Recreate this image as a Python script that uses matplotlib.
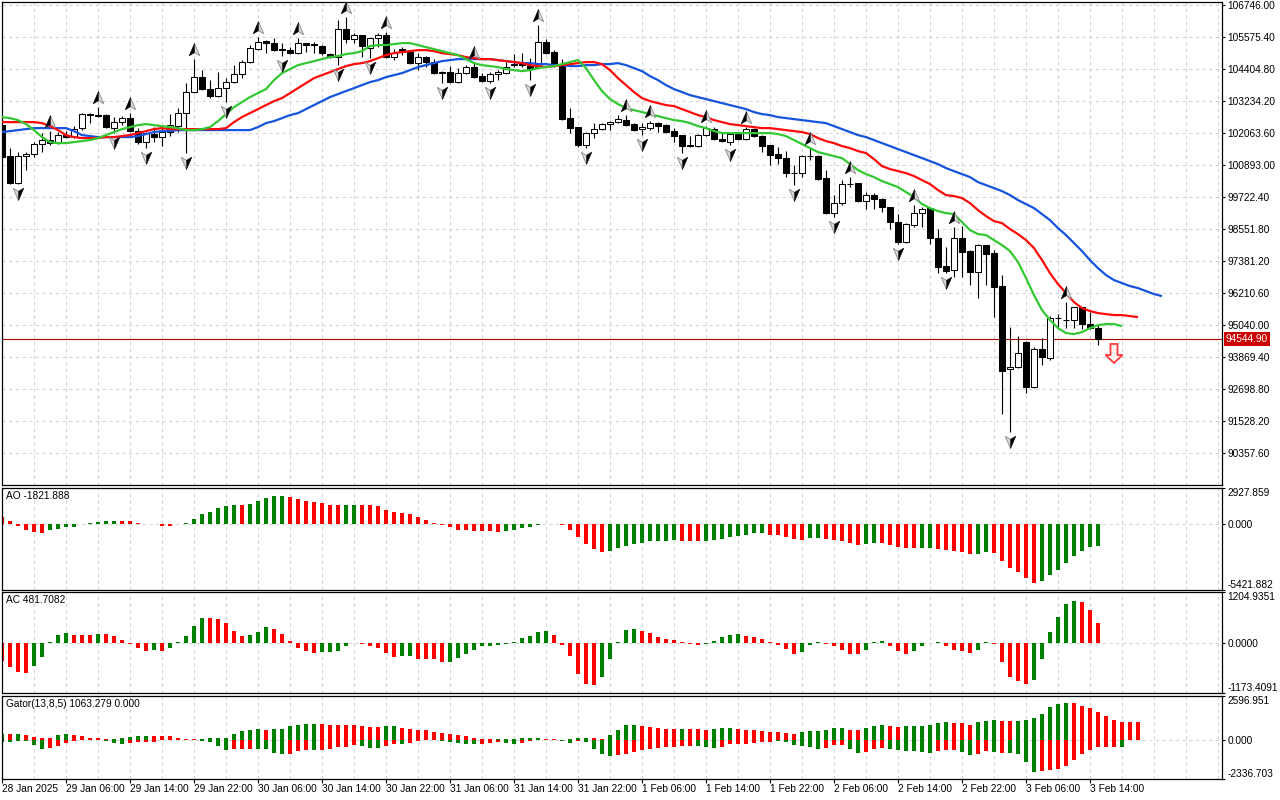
import numpy as np
import matplotlib
matplotlib.use("Agg")
import matplotlib.pyplot as plt
import matplotlib.transforms as mtransforms
from matplotlib.path import Path
from matplotlib.patches import Polygon

plt.rcParams['font.family'] = ['Liberation Sans Narrow', 'Liberation Sans', 'DejaVu Sans']
plt.rcParams['font.size'] = 7.3

# ---------------- data (BTCUSD H1) ----------------
open_ = [102356, 101223, 100235, 101223, 101296, 101662, 101808, 101698, 101991, 101918,
         102246, 102759, 102722, 102722, 102246, 102466, 102612, 102137, 101735, 102028,
         101918, 102101, 102320, 102795, 103564, 104112, 103674, 103418, 103710, 103930,
         104222, 104661, 105137, 105429, 105356, 105137, 105100, 104990, 105356, 105320,
         105247, 104954, 104844, 105868, 105503, 105649, 105173, 105539, 105649, 104844,
         105137, 105027, 104624, 104844, 104661, 104295, 104295, 103930, 104258, 104478,
         104149, 103966, 104222, 104258, 104551, 104588, 104551, 104478, 105393, 105027,
         104551, 102612, 102283, 101625, 102064, 102210, 102393, 102466, 102539, 102393,
         102210, 102246, 102429, 102356, 102137, 101991, 101625, 101589, 101991, 102210,
         101845, 101735, 102028, 101845, 102210, 101955, 101625, 101296, 101149, 100600,
         100600, 101223, 101223, 100417, 99137, 99503, 100199, 100235, 99576, 99796,
         99650, 99357, 98808, 98077, 98698, 99137, 99320, 98223, 97198, 97052,
         98223, 97747, 96979, 97967, 97674, 96467, 93430, 93503, 94419, 92773,
         94163, 93833, 95296, 95223, 95223, 95699, 95077, 94931]
high = [102429, 101515, 101369, 101369, 101735, 102064, 102137, 102101, 102137, 102320,
        102795, 102790, 103015, 102759, 102649, 102686, 102795, 102246, 102101, 102283,
        102320, 102759, 102978, 103893, 104771, 104368, 104003, 104295, 104075, 104551,
        104734, 105283, 105576, 105466, 105539, 105356, 105210, 105539, 105375, 105393,
        105283, 104990, 106197, 106307, 105722, 105667, 105550, 105722, 105759, 105137,
        105210, 105100, 104990, 104881, 104771, 104331, 104515, 104441, 104551, 104661,
        104258, 104295, 104368, 104661, 104954, 104990, 104807, 106014, 105503, 105100,
        104771, 102978, 102300, 102101, 102429, 102429, 102502, 102722, 102722, 102429,
        102429, 102502, 102466, 102393, 102246, 102010, 101955, 102028, 102320, 102283,
        102064, 102101, 102101, 102283, 102246, 101991, 101640, 101552, 101406, 100893,
        101259, 101515, 101259, 100710, 99796, 100345, 100454, 100250, 99906, 99869,
        99686, 99375, 99101, 98771, 99430, 99357, 99340, 98552, 97894, 98625,
        98662, 97784, 98004, 97985, 97784, 96870, 94968, 94638, 94440, 94236,
        94565, 95369, 95443, 95882, 95717, 95717, 95516, 95077]
low = [101076, 100199, 100199, 100710, 101186, 101369, 101625, 101662, 101881, 101881,
       102174, 102429, 102649, 102246, 102064, 102356, 102101, 101662, 101515, 101735,
       101589, 101955, 102101, 101332, 103527, 103637, 103344, 103381, 103198, 103893,
       104075, 104624, 105100, 104990, 105063, 104881, 104970, 104970, 105027, 104990,
       104917, 104807, 104551, 105356, 105356, 104844, 104807, 105210, 104807, 104734,
       104917, 104588, 104368, 104478, 104222, 103893, 103893, 103893, 104222, 104093,
       103950, 103893, 104003, 104222, 104478, 104478, 104003, 104441, 104970, 104478,
       102539, 102064, 101552, 101515, 101881, 102174, 102174, 102429, 102320, 102137,
       101991, 102174, 102101, 102064, 101735, 101332, 101552, 101552, 101955, 101808,
       101735, 101625, 101808, 101808, 101918, 101369, 100893, 100930, 100454, 100162,
       100454, 101076, 100345, 99101, 98991, 99430, 100089, 99560, 99284, 99284,
       99174, 98552, 98004, 98040, 98625, 98625, 98004, 96942, 96942, 96796,
       96796, 96504, 96028, 96504, 95333, 91785, 91126, 93467, 92553, 92736,
       93577, 93760, 94931, 94931, 94931, 94894, 94894, 94309]
close = [101186, 100235, 101223, 101296, 101662, 101808, 101698, 101991, 101918, 102210,
         102759, 102722, 102700, 102283, 102466, 102612, 102137, 101735, 102064, 101918,
         102101, 102356, 102795, 103564, 104112, 103674, 103418, 103710, 103930, 104222,
         104661, 105173, 105393, 105356, 105100, 105120, 104990, 105356, 105283, 105300,
         104990, 104844, 105868, 105503, 105649, 105247, 105539, 105649, 104844, 104990,
         105027, 104624, 104844, 104661, 104258, 104276, 103930, 104258, 104478, 104112,
         103966, 104222, 104295, 104478, 104588, 104551, 104405, 105393, 104990, 104551,
         102576, 102246, 101625, 102064, 102210, 102393, 102466, 102576, 102356, 102174,
         102283, 102429, 102320, 102101, 101955, 101589, 101589, 101991, 102246, 101845,
         101771, 102028, 101845, 102210, 101955, 101589, 101259, 101149, 100600, 100620,
         101223, 101240, 100381, 99137, 99503, 100199, 100217, 99576, 99796, 99650,
         99357, 98808, 98077, 98735, 99137, 99284, 98223, 97162, 97015, 98223,
         97711, 96979, 97967, 97638, 96431, 93357, 93503, 94016, 92773, 94163,
         93870, 95296, 95315, 95240, 95699, 95077, 94931, 94544.9]

# Alligator lines (already shifted forward: jaw +8, teeth +5, lips +3)
jaw = [102101, 102137, 102174, 102210, 102246, 102246, 102246, 102246, 102246, 102137,
       101991, 101955, 101918, 101918, 101918, 101918, 101918, 101955, 102028, 102101,
       102137, 102137, 102174, 102174, 102174, 102174, 102174, 102174, 102174, 102174,
       102174, 102174, 102283, 102429, 102502, 102612, 102722, 102795, 102942, 103088,
       103234, 103381, 103491, 103600, 103710, 103820, 103930, 104003, 104112, 104185,
       104258, 104368, 104478, 104551, 104624, 104697, 104734, 104771, 104771, 104771,
       104771, 104771, 104734, 104697, 104661, 104624, 104624, 104588, 104588, 104551,
       104551, 104515, 104515, 104551, 104551, 104588, 104588, 104624, 104551, 104441,
       104331, 104149, 104003, 103820, 103674, 103564, 103454, 103381, 103308, 103234,
       103161, 103088, 103015, 102942, 102832, 102759, 102722, 102649, 102612, 102576,
       102539, 102502, 102466, 102429, 102320, 102210, 102101, 101991, 101918, 101808,
       101698, 101589, 101479, 101369, 101259, 101149, 101039, 100930, 100783, 100673,
       100564, 100454, 100271, 100162, 100052, 99942, 99796, 99613, 99467, 99320,
       99101, 98881, 98589, 98333, 98040, 97747, 97418, 97125, 96870, 96687,
       96577, 96467, 96394, 96284, 96175, 96101]
teeth = [102466, 102466, 102466, 102466, 102466, 102429, 102320, 102174, 101991, 101918,
         101881, 101881, 101881, 101918, 101918, 101955, 101991, 102064, 102137, 102210,
         102246, 102210, 102210, 102210, 102210, 102210, 102210, 102210, 102246, 102466,
         102649, 102795, 102942, 103088, 103234, 103344, 103527, 103710, 103893, 104075,
         104185, 104295, 104405, 104515, 104588, 104624, 104697, 104807, 104917, 104990,
         105027, 105063, 105100, 105100, 105063, 104990, 104954, 104917, 104844, 104807,
         104771, 104771, 104734, 104697, 104661, 104624, 104551, 104515, 104478, 104515,
         104551, 104588, 104624, 104661, 104661, 104588, 104368, 104075, 103820, 103564,
         103344, 103234, 103161, 103088, 103052, 102942, 102832, 102722, 102649, 102539,
         102466, 102393, 102356, 102320, 102283, 102246, 102246, 102210, 102174, 102137,
         102101, 102028, 101881, 101771, 101698, 101589, 101515, 101406, 101332, 101113,
         100857, 100747, 100673, 100600, 100491, 100345, 100199, 99979, 99796, 99760,
         99686, 99503, 99247, 99028, 98845, 98771, 98552, 98369, 98150, 97857,
         97418, 96942, 96540, 96211, 95882, 95662, 95552, 95479, 95443, 95406,
         95406, 95369, 95333]
lips = [102649, 102612, 102539, 102393, 102174, 101918, 101735, 101698, 101698, 101735,
        101771, 101808, 101881, 101991, 102101, 102210, 102283, 102356, 102393, 102356,
        102320, 102283, 102246, 102174, 102174, 102210, 102283, 102502, 102759, 103015,
        103198, 103381, 103527, 103674, 104003, 104258, 104405, 104551, 104624, 104697,
        104771, 104844, 104881, 104954, 104990, 105063, 105247, 105283, 105283, 105320,
        105356, 105356, 105283, 105210, 105137, 105063, 104990, 104917, 104771, 104624,
        104551, 104515, 104478, 104405, 104368, 104331, 104368, 104441, 104478, 104515,
        104588, 104661, 104734, 104441, 104003, 103600, 103308, 103125, 102978, 102905,
        102832, 102759, 102686, 102612, 102539, 102502, 102429, 102320, 102246, 102137,
        102064, 102064, 102064, 102064, 102064, 102064, 102064, 102028, 101955, 101808,
        101662, 101515, 101369, 101296, 101223, 101149, 100930, 100710, 100564, 100454,
        100308, 100199, 100089, 99906, 99723, 99467, 99320, 99210, 99137, 99101,
        98808, 98516, 98369, 98333, 98150, 97967, 97747, 97345, 96760, 96138,
        95589, 95223, 94931, 94748, 94711, 94784, 94931, 95040, 95077, 95077,
        95004]

fractal_up_bars = [6, 12, 16, 24, 32, 37, 43, 48, 59, 67, 78, 81, 88, 93, 101, 106, 114, 119, 133]
fractal_down_bars = [2, 14, 18, 23, 28, 35, 42, 46, 55, 61, 66, 73, 80, 85, 91, 99, 104, 112, 118, 126]

ao = [568, 227, -142, -540, -710, -795, -540, -426, -284, -256,
      -28, 28, 142, 227, 227, 227, 227, 57, -20, -30,
      -142, -170, 10, 85, 426, 795, 994, 1250, 1448, 1505,
      1505, 1647, 1846, 2073, 2272, 2272, 2158, 2045, 1874, 1789,
      1732, 1562, 1562, 1562, 1562, 1505, 1505, 1420, 1164, 1000,
      880, 795, 540, 284, 85, -85, -284, -483, -483, -568,
      -568, -568, -653, -625, -540, -369, -284, -85, -28, 10,
      -114, -483, -1051, -1647, -2073, -2329, -2244, -1988, -1818, -1647,
      -1562, -1420, -1420, -1392, -1306, -1392, -1392, -1392, -1392, -1306,
      -1221, -1051, -966, -880, -795, -795, -880, -880, -1051, -1221,
      -1306, -1136, -1136, -1221, -1306, -1392, -1562, -1732, -1647, -1562,
      -1562, -1732, -1903, -1988, -1988, -1988, -1988, -2045, -2158, -2244,
      -2329, -2499, -2499, -2329, -2414, -3010, -3607, -3976, -4459, -4885,
      -4714, -4203, -3777, -3181, -2670, -2244, -1903, -1822]
ao_dir = ("rrrrrrgggg" "gggggrrrrr" "rrgggggggg" "rgggggrrrr" "rrrggrrrrr"
          "rrrrrrrrrr" "rrrggggggg" "rrrrrrgggg" "gggggrrrgg" "ggggggrrrr"
          "rggrrrrrgg" "rrrrrggrrr" "rrggrrrrrr" "gggggggg")

ac = [-416, -560, -680, -704, -536, -320, 16, 200, 240, 200,
      200, 200, 224, 224, 176, 80, -8, -120, -176, -160,
      -176, -104, 24, 160, 400, 584, 584, 560, 464, 296,
      160, 200, 272, 376, 344, 224, 56, -104, -176, -224,
      -200, -200, -176, -56, 8, -8, -56, -104, -224, -320,
      -304, -304, -368, -368, -384, -432, -432, -352, -264, -168,
      -72, -72, -48, -16, 16, 112, 168, 272, 288, 192,
      -48, -312, -728, -952, -984, -792, -384, 32, 312, 336,
      288, 240, 144, 96, 72, 16, -16, -40, -8, 48,
      144, 192, 216, 168, 144, 96, 24, -40, -136, -256,
      -216, -40, 24, -8, -72, -160, -256, -256, -152, 24,
      40, -72, -192, -256, -192, -72, 8, 16, -72, -160,
      -192, -232, -152, 24, -16, -432, -800, -896, -960, -872,
      -376, 264, 608, 928, 1000, 960, 784, 482]
ac_dir = ("rrrrgggggr" "rrgrrrrrrg" "rgggggrrrr" "rgggrrrrrr" "gggggrrrrr"
          "ggrrrrgggg" "gggggggggr" "rrrrrggggg" "rrrrrrrrgg" "gggrrrrrrr"
          "gggrrrrrgg" "grrrggggrr" "rrggrrrrrg" "gggggrrr")

gator_up = [356, 317, 317, 257, 158, 119, 119, 257, 356, 257,
            198, 119, 99, 40, 59, 99, 158, 198, 218, 218,
            218, 218, 119, 40, 20, 30, 79, 119, 125, 317,
            515, 554, 614, 554, 614, 653, 792, 851, 950, 960,
            950, 891, 851, 851, 851, 792, 752, 752, 792, 800,
            713, 614, 604, 554, 455, 416, 356, 257, 198, 119,
            40, 20, 59, 65, 70, 80, 119, 125, 59, 20,
            10, 30, 99, 119, 110, 20, 297, 594, 851, 891,
            832, 772, 713, 653, 653, 653, 653, 653, 594, 653,
            713, 713, 653, 594, 554, 535, 475, 475, 396, 337,
            436, 495, 535, 594, 673, 713, 594, 594, 673, 832,
            891, 832, 772, 792, 832, 840, 891, 970, 1069, 970,
            970, 891, 1030, 1129, 1188, 1129, 1129, 1140, 1188, 1267,
            1525, 1960, 2119, 2178, 2178, 2020, 1861, 1624, 1386, 1188,
            1069, 1069, 1063]
gator_up_dir = ("grgrrrrggr" "rrrrgggggr" "rrrrrggggg" "gggrgggggg" "rrrrrrrrgg"
                "rrrrrrrrrr" "rrggggggrr" "rgggrrgggg" "rrrrrgrrrg" "ggrrrrrrrr"
                "ggggggrrgg" "grrggggggr" "rrgggrrggg" "ggggrrrrrr" "rrr")
gator_down = [-139, -139, -79, -79, -337, -535, -475, -376, -198, -79,
              -40, -20, -40, -79, -198, -277, -198, -139, -139, -139,
              -40, -10, -10, -5, -40, -79, -139, -376, -594, -554,
              -554, -535, -554, -554, -792, -832, -832, -673, -594, -594,
              -594, -535, -436, -436, -337, -376, -495, -495, -376, -238,
              -277, -198, -99, -40, -20, -59, -139, -178, -277, -277,
              -277, -198, -139, -198, -257, -198, -99, -20, -40, -10,
              -79, -198, -99, -110, -574, -851, -970, -931, -851, -733,
              -634, -535, -475, -455, -455, -376, -376, -390, -436, -495,
              -436, -277, -277, -277, -198, -158, -158, -59, -158, -317,
              -396, -455, -554, -515, -317, -317, -554, -812, -752, -554,
              -495, -554, -594, -653, -653, -752, -812, -693, -614, -594,
              -752, -911, -851, -693, -752, -812, -812, -851, -1346, -1940,
              -1881, -1782, -1742, -1544, -1188, -871, -594, -455, -455, -455,
              -455, -25, -15]
gator_down_dir = ("ggggggrrrr" "rrggggrrrr" "rrrrgggggr" "rrggggrrrg" "rrrrrgggrr"
                  "grrrrggggg" "rrrggrrrgr" "ggrggggrrr" "rrrrrrrggg" "rrrrrrrggg"
                  "gggrrrggrr" "rggggggrrr" "ggrrgrgggg" "rrrrrrrrrr" "grr")

price_ticks = [106746.00, 105575.40, 104404.80, 103234.20, 102063.60, 100893.00, 99722.40,
               98551.80, 97381.20, 96210.60, 95040.00, 93869.40, 92698.80, 91528.20, 90357.60]
time_labels = ["28 Jan 2025", "29 Jan 06:00", "29 Jan 14:00", "29 Jan 22:00", "30 Jan 06:00",
               "30 Jan 14:00", "30 Jan 22:00", "31 Jan 06:00", "31 Jan 14:00", "31 Jan 22:00",
               "1 Feb 06:00", "1 Feb 14:00", "1 Feb 22:00", "2 Feb 06:00", "2 Feb 14:00",
               "2 Feb 22:00", "3 Feb 06:00", "3 Feb 14:00"]
bars_per_label = 8
last_price = 94544.90
signal_bar = 139
signal_price = 94350
ao_range = (-5421.882, 2927.859)
ac_range = (-1173.4091, 1204.9351)
gator_range = (-2336.703, 2596.951)
ao_title = "AO -1821.888"
ac_title = "AC 481.7082"
gator_title = "Gator(13,8,5) 1063.279 0.000"

# ---------------- styling ----------------
GREEN = '#008000'
RED = '#ff0000'
GRID = '#d4d4d4'
FS = 7.3
W, H = 1280, 800
fig = plt.figure(figsize=(W / 100, H / 100), dpi=100)
fig.patch.set_facecolor('white')


def px_axes(x0, y0, x1, y1):
    return fig.add_axes([x0 / W, 1 - y1 / H, (x1 - x0) / W, (y1 - y0) / H])


ax = px_axes(2, 2, 1222, 485)
ax_ao = px_axes(2, 488, 1222, 590)
ax_ac = px_axes(2, 592, 1222, 693)
ax_g = px_axes(2, 696, 1222, 779)
XLIM = (0, 152.5)
grid_bars = np.arange(4, 153, 4)

for a in (ax, ax_ao, ax_ac, ax_g):
    a.set_xlim(*XLIM)
    for s in a.spines.values():
        s.set_linewidth(0.9)
        s.set_color('black')
    for gb in grid_bars:
        a.axvline(gb, color=GRID, lw=0.8, ls=(0, (3, 3)), zorder=0)
    a.yaxis.tick_right()
    a.tick_params(axis='y', which='major', direction='out', length=2.3, width=0.8, pad=1.6,
                  labelsize=FS, left=False, right=True, labelleft=False, labelright=True)
    a.set_xticks([])

# ---------------- main price panel ----------------
o = np.asarray(open_, float)
h = np.asarray(high, float)
l = np.asarray(low, float)
c = np.asarray(close, float)
idx = np.arange(len(c))
bull = c > o
body_lo = np.minimum(o, c)
body_h = np.maximum(np.abs(c - o), 12)
ax.vlines(idx, l, h, color='black', lw=0.8, zorder=2)
ax.bar(idx, body_h, bottom=body_lo, width=0.64,
       color=np.where(bull, 'white', 'black'), edgecolor='black', linewidth=0.75, zorder=3)

ax.plot(np.arange(len(jaw)), jaw, color='#1554dc', lw=1.6, zorder=4, solid_capstyle='butt')
ax.plot(np.arange(len(teeth)), teeth, color='#ff0a0a', lw=1.6, zorder=4, solid_capstyle='butt')
ax.plot(np.arange(len(lips)), lips, color='#33c833', lw=1.6, zorder=4, solid_capstyle='butt')

ax.set_ylim(89190, 106860)
ax.set_yticks(price_ticks)
ax.set_yticklabels([f"{v:.2f}" for v in price_ticks])
ax.grid(axis='y', color=GRID, lw=0.8, ls=(0, (3, 3)), zorder=0)
ax.set_axisbelow(True)

# fractal arrows
up_full = Path([(0, 1), (0.75, -0.75), (0, -0.3), (-0.75, -0.75), (0, 1)],
               [Path.MOVETO, Path.LINETO, Path.LINETO, Path.LINETO, Path.CLOSEPOLY])
up_half = Path([(0, 1), (0, -0.3), (-0.75, -0.75), (0, 1)],
               [Path.MOVETO, Path.LINETO, Path.LINETO, Path.CLOSEPOLY])
dn_full = Path([(0, -1), (0.75, 0.75), (0, 0.3), (-0.75, 0.75), (0, -1)],
               [Path.MOVETO, Path.LINETO, Path.LINETO, Path.LINETO, Path.CLOSEPOLY])
dn_half = Path([(0, -1), (0, 0.3), (0.75, 0.75), (0, -1)],
               [Path.MOVETO, Path.LINETO, Path.LINETO, Path.CLOSEPOLY])
tr_up = mtransforms.offset_copy(ax.transData, fig=fig, x=0, y=9, units='dots')
tr_dn = mtransforms.offset_copy(ax.transData, fig=fig, x=0, y=-9, units='dots')
fu = np.array(fractal_up_bars)
fd = np.array(fractal_down_bars)
ax.plot(fu, h[fu], ls='none', marker=up_full, ms=10, mfc='#d8d8d8', mec='#8a8a8a', mew=0.6,
        transform=tr_up, zorder=6)
ax.plot(fu, h[fu], ls='none', marker=up_half, ms=10, mfc='black', mec='black', mew=0.3,
        transform=tr_up, zorder=7)
ax.plot(fd, l[fd], ls='none', marker=dn_full, ms=10, mfc='#d8d8d8', mec='#8a8a8a', mew=0.6,
        transform=tr_dn, zorder=6)
ax.plot(fd, l[fd], ls='none', marker=dn_half, ms=10, mfc='black', mec='black', mew=0.3,
        transform=tr_dn, zorder=7)

# current price line + label
ax.axhline(last_price, color='#b00000', lw=0.8, zorder=1.5)
ax.annotate(f"{last_price:.2f}", xy=(1, last_price), xycoords=('axes fraction', 'data'),
            xytext=(4, 0), textcoords='offset pixels', ha='left', va='center', color='white',
            fontsize=FS, annotation_clip=False,
            bbox=dict(boxstyle='square,pad=0.2', fc='#cc0000', ec='none'))

# sell signal arrow
arrow_shape = [(-3.5, 0), (3.5, 0), (3.5, -11), (8.5, -11), (0, -19), (-8.5, -11), (-3.5, -11)]
arrow_tr = mtransforms.Affine2D() + mtransforms.ScaledTranslation(signal_bar, signal_price, ax.transData)
ax.add_patch(Polygon(arrow_shape, closed=True, transform=arrow_tr, fc='#fff2f2', ec='#ff3b3b',
                     lw=1.3, zorder=8))


# ---------------- indicator panels ----------------
def colors_from(dirs):
    return [GREEN if d == 'g' else RED for d in dirs]


def setup_sub(a, rng, fmt, title):
    bot, top = rng
    a.set_ylim(bot, top)
    a.set_yticks([top, 0, bot])
    a.set_yticklabels([fmt.format(top), fmt.format(0.0), fmt.format(bot)])
    a.axhline(0, color=GRID, lw=0.8, ls=(0, (3, 3)), zorder=0)
    ticks = a.yaxis.get_major_ticks()
    ticks[0].label2.set_va('top')
    ticks[2].label2.set_va('bottom')
    t_tr = mtransforms.offset_copy(a.transAxes, fig=fig, x=4, y=-3, units='dots')
    a.text(0, 1, title, transform=t_tr, ha='left', va='top', fontsize=FS, color='black')


ax_ao.bar(np.arange(len(ao)), ao, width=0.5, color=colors_from(ao_dir), linewidth=0, zorder=2)
setup_sub(ax_ao, ao_range, "{:.3f}", ao_title)
ax_ac.bar(np.arange(len(ac)), ac, width=0.5, color=colors_from(ac_dir), linewidth=0, zorder=2)
setup_sub(ax_ac, ac_range, "{:.4f}", ac_title)
ax_g.bar(np.arange(len(gator_up)), gator_up, width=0.5, color=colors_from(gator_up_dir),
         linewidth=0, zorder=2)
ax_g.bar(np.arange(len(gator_down)), gator_down, width=0.5, color=colors_from(gator_down_dir),
         linewidth=0, zorder=2)
setup_sub(ax_g, gator_range, "{:.3f}", gator_title)

label_bars = np.arange(len(time_labels)) * bars_per_label
ax_g.set_xticks(label_bars)
ax_g.set_xticklabels(time_labels, ha='left', fontsize=FS)
ax_g.tick_params(axis='x', direction='out', length=3, width=0.8, pad=0.8)

fig.savefig('out.png', dpi=100, facecolor='white')
